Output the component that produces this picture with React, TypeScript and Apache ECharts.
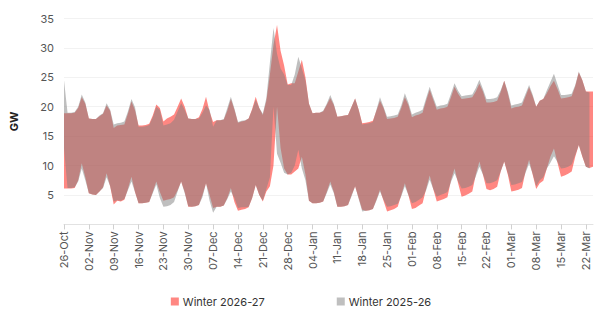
import { useEffect, useRef } from "react";
import * as echarts from "echarts";

// Daily labels from 26 Oct through 24 Mar (weekly ticks)
const MONTHS = ["Jan", "Feb", "Mar", "Apr", "May", "Jun", "Jul", "Aug", "Sep", "Oct", "Nov", "Dec"];
const START_MS = Date.UTC(2026, 9, 26);
const DAY_COUNT = 150;
const dayLabels: string[] = Array.from({ length: DAY_COUNT }, (_, i) => {
  const d = new Date(START_MS + i * 86400000);
  return `${String(d.getUTCDate()).padStart(2, "0")}-${MONTHS[d.getUTCMonth()]}`;
});

const yTicks = [0, 5, 10, 15, 20, 25, 30, 35];

// Winter 2026-27 daily range (GW)
const winter27High = [
  18.9, 18.9, 18.9, 19.0, 19.8, 21.6, 20.5, 18.0, 17.9, 17.9,
  18.4, 18.8, 20.2, 19.3, 16.4, 16.8, 16.9, 17.0, 18.8, 20.9,
  19.4, 16.8, 16.8, 16.9, 17.1, 18.5, 20.4, 19.8, 17.5, 18.0,
  18.3, 18.7, 20.0, 21.4, 20.0, 18.0, 17.9, 17.9, 18.2, 19.6,
  21.7, 19.2, 17.4, 17.7, 17.7, 17.8, 19.3, 21.3, 19.5, 17.3,
  17.5, 17.6, 18.0, 19.6, 21.7, 19.8, 18.6, 21.0, 25.5, 30.5,
  33.9, 29.5, 27.0, 23.8, 24.0, 24.0, 26.0, 28.0, 25.0, 20.5,
  18.9, 19.0, 19.0, 19.2, 20.3, 21.5, 20.3, 18.3, 18.4, 18.5,
  18.6, 20.0, 21.4, 19.5, 17.2, 17.3, 17.4, 17.6, 19.3, 21.0,
  19.8, 17.9, 18.0, 18.1, 18.3, 19.8, 21.6, 20.3, 18.2, 18.5,
  18.7, 19.0, 21.0, 22.9, 21.2, 19.5, 19.7, 19.8, 20.0, 21.6,
  23.4, 22.2, 21.3, 21.4, 21.5, 21.6, 22.6, 23.9, 22.6, 20.7,
  20.7, 20.8, 21.0, 22.5, 24.4, 22.3, 19.7, 19.9, 20.0, 20.2,
  21.8, 23.3, 21.8, 20.0, 21.0, 21.3, 22.3, 23.5, 24.4, 23.0,
  21.4, 21.5, 21.6, 21.8, 23.5, 25.8, 24.5, 22.6, 22.6, 22.6,
];
const winter27Low = [
  6.1, 6.1, 6.1, 6.2, 7.5, 10.4, 8.0, 5.3, 5.1, 5.0,
  5.6, 6.3, 8.7, 6.5, 3.4, 4.0, 3.9, 4.2, 6.0, 8.1,
  5.5, 3.6, 3.6, 3.7, 3.8, 5.5, 7.3, 5.5, 4.0, 4.2,
  4.3, 4.6, 5.8, 7.3, 5.5, 3.0, 3.0, 3.1, 3.3, 5.0,
  7.0, 5.0, 2.8, 3.0, 3.0, 3.2, 4.5, 6.2, 3.8, 2.3,
  2.5, 2.6, 2.9, 4.5, 6.7, 5.0, 3.9, 5.6, 6.5, 10.0,
  20.0, 13.0, 9.5, 8.5, 8.5, 9.0, 9.5, 11.5, 8.5, 4.0,
  3.6, 3.6, 3.7, 3.9, 5.5, 7.3, 5.5, 3.0, 3.0, 3.1,
  3.3, 5.0, 6.5, 4.5, 2.5, 2.3, 2.4, 2.6, 4.2, 5.9,
  4.0, 2.2, 2.4, 2.6, 3.0, 5.0, 7.0, 5.0, 2.6, 2.8,
  3.2, 3.6, 6.0, 8.3, 6.0, 3.9, 4.1, 4.3, 4.6, 7.5,
  9.5, 7.0, 4.7, 4.9, 5.2, 5.6, 8.5, 10.7, 8.5, 6.0,
  5.8, 6.0, 6.4, 9.0, 10.7, 8.5, 5.6, 5.7, 5.9, 6.2,
  9.0, 11.0, 8.5, 6.0, 7.0, 7.4, 9.5, 11.5, 12.9, 10.5,
  8.1, 8.3, 8.6, 9.0, 11.5, 13.5, 11.5, 9.8, 9.6, 9.8,
];

// Winter 2025-26 daily range (GW)
const winter26High = [
  24.5, 19.0, 19.0, 19.1, 20.0, 22.1, 20.7, 18.0, 17.9, 17.9,
  18.5, 18.9, 20.6, 19.5, 17.0, 17.2, 17.3, 17.5, 19.2, 21.3,
  19.9, 16.6, 16.6, 16.7, 16.9, 18.2, 20.0, 19.5, 16.8, 17.0,
  17.2, 17.8, 19.2, 20.6, 19.5, 18.0, 17.9, 17.9, 18.0, 19.0,
  20.2, 19.5, 16.6, 17.7, 17.7, 17.9, 19.8, 21.7, 19.7, 17.4,
  17.6, 17.7, 18.0, 19.5, 21.2, 19.8, 18.8, 21.5, 27.5, 33.4,
  29.0, 26.5, 25.5, 23.7, 23.7, 25.5, 28.5, 26.5, 24.5, 20.5,
  18.9, 19.0, 19.0, 19.3, 20.5, 22.0, 20.5, 18.3, 18.4, 18.5,
  18.6, 20.0, 21.4, 19.5, 17.0, 17.1, 17.2, 17.4, 19.5, 21.6,
  20.0, 18.3, 18.4, 18.5, 18.7, 20.2, 22.3, 20.7, 18.7, 19.0,
  19.2, 19.5, 21.5, 23.4, 21.6, 20.0, 20.2, 20.3, 20.5, 22.2,
  24.0, 22.7, 21.8, 21.9, 22.0, 22.1, 23.2, 24.6, 23.0, 21.3,
  21.3, 21.4, 21.6, 22.8, 24.4, 22.6, 20.2, 20.4, 20.5, 20.7,
  22.2, 23.7, 22.1, 20.0, 21.0, 21.3, 22.8, 24.2, 25.6, 23.8,
  22.0, 22.0, 22.1, 22.2, 23.7, 26.0, 24.5, 22.6, 22.4,
];
const winter26Low = [
  13.0, 6.2, 6.2, 6.3, 7.3, 9.5, 7.5, 5.3, 5.1, 5.0,
  5.6, 6.2, 8.0, 6.5, 3.9, 4.1, 4.0, 4.3, 5.8, 7.3,
  5.5, 3.6, 3.6, 3.7, 3.8, 5.3, 6.8, 4.5, 3.0, 3.1,
  3.3, 3.8, 5.6, 7.3, 5.3, 3.1, 3.0, 3.1, 3.3, 4.6,
  7.0, 4.0, 2.0, 3.0, 3.0, 3.2, 4.3, 5.6, 4.5, 2.8,
  2.9, 2.9, 3.0, 4.5, 6.7, 5.0, 4.0, 6.0, 8.0, 20.0,
  12.0, 10.5, 8.8, 8.5, 8.8, 10.0, 12.7, 9.5, 7.5, 4.0,
  3.6, 3.6, 3.7, 3.9, 5.3, 6.8, 5.3, 3.0, 3.0, 3.1,
  3.3, 4.8, 6.5, 4.3, 2.2, 2.3, 2.4, 2.6, 4.0, 5.6,
  4.2, 3.0, 3.1, 3.3, 3.5, 4.8, 6.5, 5.0, 3.6, 3.8,
  4.2, 4.6, 5.8, 7.6, 6.0, 4.7, 5.0, 5.2, 5.5, 7.2,
  8.7, 7.3, 6.1, 6.2, 6.4, 6.7, 8.2, 9.8, 8.5, 7.0,
  7.0, 7.2, 7.5, 9.0, 10.7, 8.7, 6.7, 6.8, 7.0, 7.2,
  8.8, 10.3, 8.6, 6.5, 7.5, 8.0, 9.5, 10.5, 11.6, 10.6,
  9.5, 9.6, 9.8, 10.2, 11.8, 13.5, 11.6, 9.8, 9.5,
];

const SERIES_NAMES = ["Winter 2026-27", "Winter 2025-26"];
const RED = "rgba(255, 15, 5, 0.5)";
const GREY = "rgba(128, 128, 128, 0.5)";
const FONT = "Inter, 'Noto Sans', sans-serif";

// A range band: an invisible base line at the minimum, with the span stacked on top of it
function band(name: string, low: number[], high: number[], color: string) {
  return [
    {
      name: `${name} min`,
      type: "line",
      stack: name,
      data: low,
      symbol: "none",
      silent: true,
      lineStyle: { width: 0, opacity: 0 },
      itemStyle: { color },
    },
    {
      name,
      type: "line",
      stack: name,
      data: high.map((h, i) => Math.round((h - low[i]) * 100) / 100),
      symbol: "none",
      lineStyle: { width: 0, opacity: 0 },
      itemStyle: { color },
      areaStyle: { color, opacity: 1 },
    },
  ];
}

export default function App() {
  const ref = useRef<HTMLDivElement>(null);

  useEffect(() => {
    if (!ref.current) return;
    const chart = echarts.init(ref.current, undefined, { renderer: "svg" });
    chart.setOption({
      animation: false,
      textStyle: { fontFamily: FONT },
      grid: { left: 53, right: 9, top: 18.5, bottom: 93.6, containLabel: false },
      legend: {
        data: SERIES_NAMES,
        bottom: 6,
        left: "center",
        icon: "rect",
        itemWidth: 8,
        itemHeight: 8,
        itemGap: 72,
        textStyle: { fontSize: 11, color: "#333", fontFamily: FONT, padding: [0, 0, 0, -1] },
      },
      xAxis: {
        type: "category",
        boundaryGap: false,
        data: dayLabels,
        axisLine: { lineStyle: { color: "#e2e2e2" } },
        axisTick: { interval: 6, length: 5, lineStyle: { color: "#d0d0d0" } },
        axisLabel: { interval: 6, rotate: 90, color: "#555", fontSize: 11, margin: 7, fontFamily: FONT },
        splitLine: { show: false },
      },
      yAxis: {
        type: "value",
        min: yTicks[0],
        max: yTicks[yTicks.length - 1],
        interval: 5,
        name: "GW",
        nameLocation: "middle",
        nameGap: 45,
        nameTextStyle: { fontWeight: "bold", color: "#222", fontSize: 11, fontFamily: FONT },
        axisLine: { show: false },
        axisTick: { show: false },
        axisLabel: { color: "#555", fontSize: 11, margin: 10, showMinLabel: false, fontFamily: FONT },
        splitLine: { lineStyle: { color: "#f2f2f2" } },
      },
      series: [
        ...band(SERIES_NAMES[0], winter27Low, winter27High, RED),
        ...band(SERIES_NAMES[1], winter26Low, winter26High, GREY),
      ],
    });
    return () => chart.dispose();
  }, []);

  return (
    <div
      ref={ref}
      style={{ position: "fixed", left: 0, top: 0, width: 602, height: 318, background: "#fff" }}
    />
  );
}
